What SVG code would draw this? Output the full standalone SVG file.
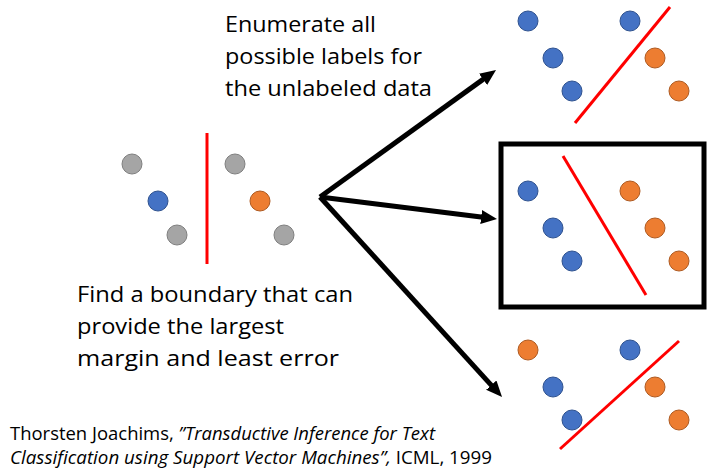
<svg xmlns="http://www.w3.org/2000/svg" width="717" height="469" viewBox="0 0 717 469">
<style>
.b{fill:#4472C4;stroke:#2F528F;stroke-width:1}
.o{fill:#ED7D31;stroke:#AE5A21;stroke-width:1}
.g{fill:#A5A5A5;stroke:#7F7F7F;stroke-width:1}
.sep{stroke:#FF0000;stroke-width:3;fill:none}
.arr{stroke:#000;stroke-width:5;fill:none;marker-end:url(#ah)}
.t{font-family:"Open Sans","Liberation Sans",sans-serif;font-size:22px;fill:#000}
.c{font-family:"Open Sans","Liberation Sans",sans-serif;font-size:18px;fill:#000}
</style>
<defs>
<marker id="ah" markerUnits="userSpaceOnUse" markerWidth="18" markerHeight="16" refX="6" refY="7" orient="auto">
<path d="M0,0 L16,7 L0,14 z" fill="#000"/>
</marker>
</defs>
<rect width="717" height="469" fill="#fff"/>

<g id="source">
<circle class="g" cx="132" cy="164" r="10"/>
<circle class="b" cx="158" cy="201" r="10"/>
<circle class="g" cx="177" cy="235" r="10"/>
<circle class="g" cx="235" cy="164" r="10"/>
<circle class="o" cx="260" cy="201" r="10"/>
<circle class="g" cx="284" cy="235" r="10"/>
<line class="sep" x1="207" y1="133" x2="207" y2="264"/>
</g>

<g id="option-top">
<circle class="b" cx="528" cy="21" r="10"/>
<circle class="b" cx="553" cy="58" r="10"/>
<circle class="b" cx="572" cy="91" r="10"/>
<circle class="b" cx="630" cy="21" r="10"/>
<circle class="o" cx="655" cy="58" r="10"/>
<circle class="o" cx="679" cy="91" r="10"/>
<line class="sep" x1="575" y1="123" x2="670" y2="7"/>
</g>

<g id="option-best">
<rect x="501" y="144" width="203" height="163" fill="none" stroke="#000" stroke-width="5"/>
<circle class="b" cx="528" cy="191" r="10"/>
<circle class="b" cx="553" cy="228" r="10"/>
<circle class="b" cx="572" cy="261" r="10"/>
<circle class="o" cx="630" cy="191" r="10"/>
<circle class="o" cx="655" cy="228" r="10"/>
<circle class="o" cx="679" cy="261" r="10"/>
<line class="sep" x1="563" y1="156" x2="646" y2="295"/>
</g>

<g id="option-bottom">
<circle class="o" cx="528" cy="350" r="10"/>
<circle class="b" cx="553" cy="387" r="10"/>
<circle class="b" cx="572" cy="420" r="10"/>
<circle class="b" cx="630" cy="350" r="10"/>
<circle class="o" cx="655" cy="387" r="10"/>
<circle class="o" cx="679" cy="420" r="10"/>
<line class="sep" x1="560" y1="449" x2="679" y2="341"/>
</g>

<g id="connectors">
<line class="arr" x1="320" y1="197" x2="487.9" y2="75.9"/>
<line class="arr" x1="320" y1="197" x2="487.1" y2="217.8"/>
<line class="arr" x1="320" y1="197" x2="495.3" y2="389.6"/>
</g>

<g id="label-enumerate">
<text class="t" x="225" y="32" textLength="151" lengthAdjust="spacingAndGlyphs">Enumerate all</text>
<text class="t" x="225" y="64" textLength="197" lengthAdjust="spacingAndGlyphs">possible labels for</text>
<text class="t" x="225" y="96" textLength="207" lengthAdjust="spacingAndGlyphs">the unlabeled data</text>
</g>

<g id="label-find">
<text class="t" x="77" y="302" textLength="276" lengthAdjust="spacingAndGlyphs">Find a boundary that can</text>
<text class="t" x="77" y="334" textLength="207" lengthAdjust="spacingAndGlyphs">provide the largest</text>
<text class="t" x="77" y="366" textLength="262" lengthAdjust="spacingAndGlyphs">margin and least error</text>
</g>

<g id="citation">
<text class="c" x="10" y="440" textLength="425" lengthAdjust="spacingAndGlyphs">Thorsten Joachims, <tspan font-style="italic">”Transductive Inference for Text</tspan></text>
<text class="c" x="10" y="464" textLength="482" lengthAdjust="spacingAndGlyphs"><tspan font-style="italic">Classification using Support Vector Machines”,</tspan> ICML, 1999</text>
</g>
</svg>
